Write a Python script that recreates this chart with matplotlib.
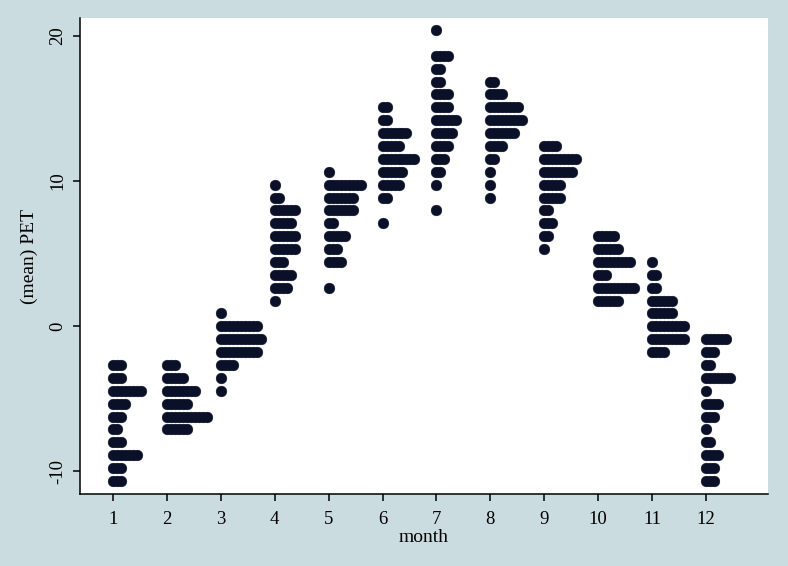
import matplotlib
matplotlib.use('Agg')
import matplotlib.pyplot as plt

# ---- data (Stata-style dotplot of mean PET by month) ----
months = [1, 2, 3, 4, 5, 6, 7, 8, 9, 10, 11, 12]
lowest_bin_value = -10.69      # value of the lowest y bin
bin_width = 0.8886             # width of each y bin
# index of the lowest occupied bin for every month
base_bin = [0, 4, 7, 14, 15, 20, 21, 22, 18, 14, 10, 0]
# number of dots in each bin, from the lowest occupied bin upwards
counts_m1 = [3, 3, 7, 3, 2, 3, 4, 8, 3, 3]
counts_m2 = [6, 11, 6, 8, 5, 3]
counts_m3 = [1, 1, 4, 10, 11, 10, 1]
counts_m4 = [1, 4, 5, 3, 6, 6, 5, 6, 2, 1]
counts_m5 = [1, 0, 4, 3, 5, 2, 7, 7, 9, 1]
counts_m6 = [1, 0, 2, 5, 6, 9, 5, 7, 2, 2]
counts_m7 = [1, 0, 1, 2, 3, 4, 5, 6, 4, 4, 2, 2, 4, 0, 1]
counts_m8 = [1, 1, 1, 2, 4, 7, 9, 8, 4, 2]
counts_m9 = [1, 2, 3, 2, 5, 5, 8, 9, 4]
counts_m10 = [6, 10, 3, 9, 6, 5]
counts_m11 = [4, 9, 9, 6, 6, 2, 2, 1]
counts_m12 = [3, 3, 4, 2, 1, 3, 4, 1, 7, 2, 3, 6]
all_counts = [counts_m1, counts_m2, counts_m3, counts_m4, counts_m5, counts_m6,
              counts_m7, counts_m8, counts_m9, counts_m10, counts_m11, counts_m12]
y_ticks = [-10, 0, 10, 20]
y_tick_labels = ['-10', '0', '10', '20']
x_label = 'month'
y_label = '(mean) PET'

# ---- style ----
bg = '#cbdce1'
dot_color = '#0b1029'
dot_step = 0.074  # horizontal spacing between dots, in month units

plt.rcParams['font.family'] = ['Liberation Serif', 'DejaVu Serif']

fig = plt.figure(figsize=(7.88, 5.66), dpi=100, facecolor=bg)
W, H = 788, 566
ax = fig.add_axes([80 / W, 1 - 494 / H, (768 - 80) / W, (494 - 18) / H])
ax.set_facecolor('white')

xs, ys = [], []
for m, b, cnts in zip(months, base_bin, all_counts):
    for k, n in enumerate(cnts):
        yv = lowest_bin_value + (b + k) * bin_width
        for i in range(n):
            xs.append(m + i * dot_step)
            ys.append(yv)
ax.scatter(xs, ys, s=60, color=dot_color, edgecolors=dot_color, linewidths=0.3,
           zorder=3, clip_on=False)

ax.set_xlim(0.388, 13.15)
ax.set_ylim(-11.586, 21.24)

ax.set_xticks(months)
ax.set_xticklabels([str(m) for m in months], fontsize=13.5)
ax.set_yticks(y_ticks)
ax.set_yticklabels(y_tick_labels, fontsize=13.5, rotation=90, va='center')

for side in ['top', 'right']:
    ax.spines[side].set_visible(False)
for side in ['left', 'bottom']:
    ax.spines[side].set_color('black')
    ax.spines[side].set_linewidth(1.1)
ax.tick_params(axis='both', direction='out', length=5, width=1.1, color='black',
               labelcolor='black')
ax.tick_params(axis='x', pad=7)
ax.tick_params(axis='y', pad=5)

ax.set_xlabel(x_label, fontsize=14, labelpad=1)
ax.set_ylabel(y_label, fontsize=14, labelpad=8)

fig.savefig('out.png', dpi=100, facecolor=bg)
